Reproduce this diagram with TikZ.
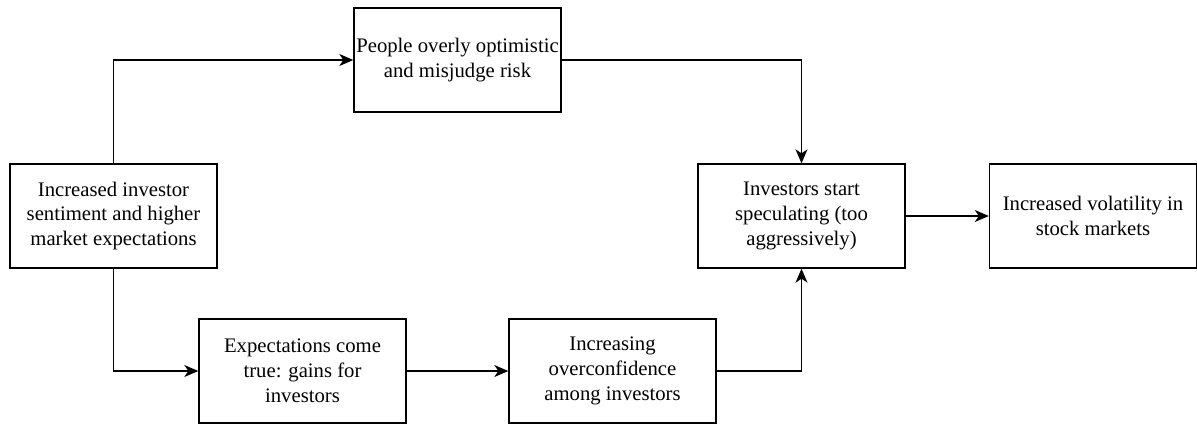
\documentclass[tikz,border=0pt]{standalone}
\usepackage{fontspec}
\setmainfont{Liberation Serif}
\usepackage{tikz}
\usetikzlibrary{arrows.meta}
\tikzstyle{box}=[draw,line width=0.7pt,minimum width=103.5pt,minimum height=52pt,inner sep=0pt,align=center,font=\fontsize{10.35}{12.4}\selectfont]
\tikzstyle{arr}=[line width=0.7pt,-{Stealth[length=7pt,width=6pt,inset=2pt]}]

\begin{document}
\begin{tikzpicture}[x=0.5pt,y=-0.5pt]
      \useasboundingbox (0,0) rectangle (1197,424);
      \node[box] (n0) at (113.5, 216) {Increased investor\\sentiment and higher\\market expectations};
      \node[box] (n1) at (457.5, 60) {People overly optimistic\\and misjudge risk};
      \node[box] (n2) at (302.5, 371) {Expectations come\\true: gains for\\investors};
      \node[box] (n3) at (612.5, 371) {Increasing\\overconfidence\\among investors};
      \node[box] (n4) at (801.5, 216) {Investors start\\speculating (too\\aggressively)};
      \node[box] (n5) at (1093, 216) {Increased volatility in\\stock markets};
      \draw[arr] (n0.north) |- (n1.west);
      \draw[arr] (n1.east) -| (n4.north);
      \draw[arr] (n0.south) |- (n2.west);
      \draw[arr] (n2.east) -- (n3.west);
      \draw[arr] (n3.east) -| (n4.south);
      \draw[arr] (n4.east) -- (n5.west);
    \end{tikzpicture}
\end{document}
